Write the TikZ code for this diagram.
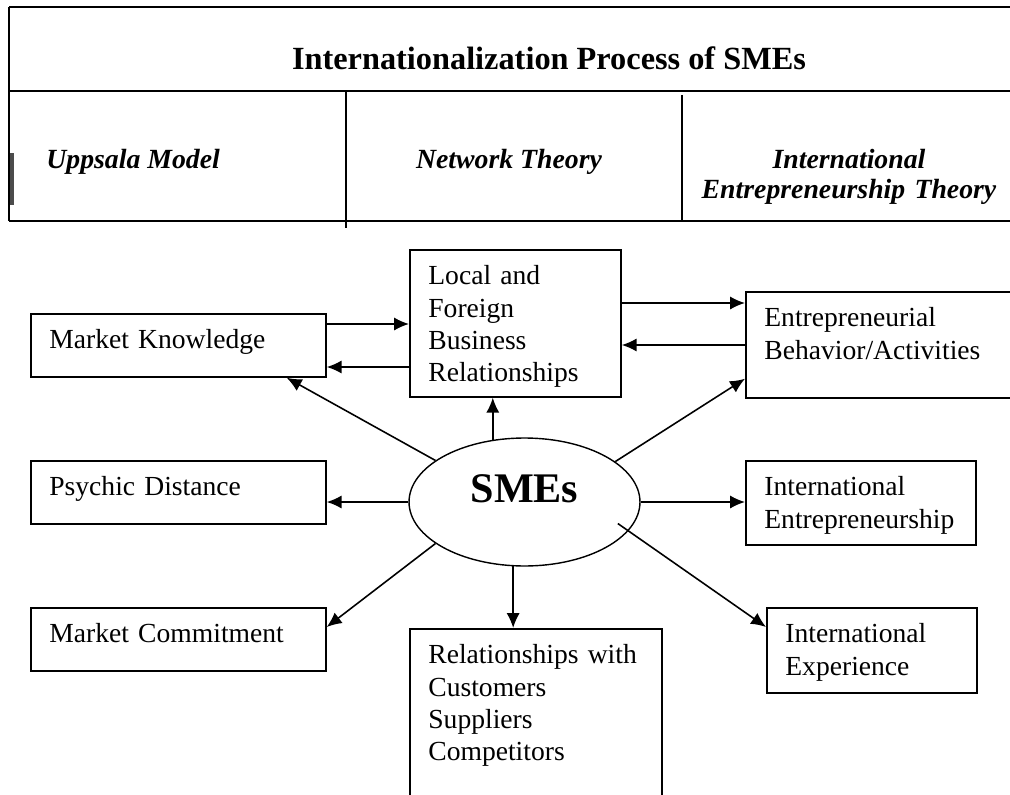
\documentclass[tikz,border=0pt]{standalone}
\usepackage{fontspec}
\setmainfont{Liberation Serif}
\usetikzlibrary{arrows.meta,shapes.geometric,calc}

\tikzset{
  box/.style={draw, line width=1pt, anchor=north west, inner xsep=0.37cm, inner ysep=0pt, align=left, text height=0.7cm, font=\fontsize{15.7}{18.3}\selectfont},
  arr/.style={-{Latex[length=8.5pt,width=7.5pt]}, line width=0.9pt},
  rule/.style={line width=1.1pt},
  colhead/.style={anchor=base, font=\fontsize{15.8}{17.6}\selectfont\bfseries\itshape}
}

\begin{document}
\begin{tikzpicture}[x=0.02cm, y=-0.02cm]
      \clip (0,0) rectangle (1010,794);

      % Header table
      \draw[rule] (9,7) -- (1010,7);
      \draw[rule] (9,91) -- (1010,91);
      \draw[rule] (9,221) -- (1010,221);
      \draw[rule] (9,7) -- (9,221);
      \draw[rule] (346,91) -- (346,228);
      \draw[rule] (682,95) -- (682,221);
      \draw[line width=2pt, black!70] (12,153) -- (12,205);

      \node[anchor=base, font=\fontsize{18.4}{22}\selectfont\bfseries] (title) at (549,70) {Internationalization Process of SMEs};
      \node[colhead, anchor=base west, inner xsep=0pt] (uppsala) at (46,168) {Uppsala Model};
      \node[colhead] (network) at (509,168) {Network Theory};
      \node[colhead, text width=6cm, align=center] (ietheory) at (849,168) {International\\Entrepreneurship Theory};

      % Boxes
      \node[box, text width=5.16cm, text depth=0.56cm] (mk) at (30,313) {Market Knowledge};
      \node[box, text width=5.16cm, text depth=0.56cm] (pd) at (30,460) {Psychic Distance};
      \node[box, text width=5.16cm, text depth=0.56cm] (mc) at (30,607) {Market Commitment};
      \node[box, text width=3.48cm, text depth=2.24cm] (lfb) at (409,249) {Local and\\Foreign\\Business\\Relationships};
      \node[box, text width=4.6cm, text depth=1.42cm] (eb) at (745,291) {Entrepreneurial\\Behavior/Activities};
      \node[box, text width=3.86cm, text depth=0.98cm] (ie) at (745,460) {International\\Entrepreneurship};
      \node[box, text width=3.46cm, text depth=1.0cm] (iexp) at (766,607) {International\\Experience};
      \node[box, text width=4.3cm, text depth=4cm] (rel) at (409,628) {Relationships with\\Customers\\Suppliers\\Competitors};

      % Centre
      \node[draw, ellipse, line width=0.8pt, minimum width=4.62cm, minimum height=2.56cm, inner sep=0pt, text height=0.6cm, text depth=0.6cm, font=\fontsize{24}{28}\selectfont\bfseries] (smes) at (524.5,502) {SMEs};

      % Links
      \draw[arr] (mk.east |- 0,324) -- (lfb.west |- 0,324);
      \draw[arr] (lfb.west |- 0,367) -- (mk.east |- 0,367);
      \draw[arr] (lfb.east |- 0,303) -- (eb.west |- 0,303);
      \draw[arr] (eb.west |- 0,345) -- (lfb.east |- 0,345);
      \draw[arr] (smes.155) -- ($(mk.south east)+(-40,0)$);
      \draw[arr] (smes.24) -- ($(eb.south west)+(0,-20)$);
      \draw[arr] (smes.205) -- ($(mc.north east)+(0,20)$);
      \draw[arr] ($(smes.center)!0.87!(smes.-13)$) -- ($(iexp.north west)+(0,20)$);
      \draw[arr] (smes.117) -- (smes.117 |- lfb.south);
      \draw[arr] (smes.260) -- (smes.260 |- rel.north);
      \draw[arr] (smes.west) -- (smes.west -| pd.east);
      \draw[arr] (smes.east) -- (smes.east -| ie.west);
\end{tikzpicture}
\end{document}
